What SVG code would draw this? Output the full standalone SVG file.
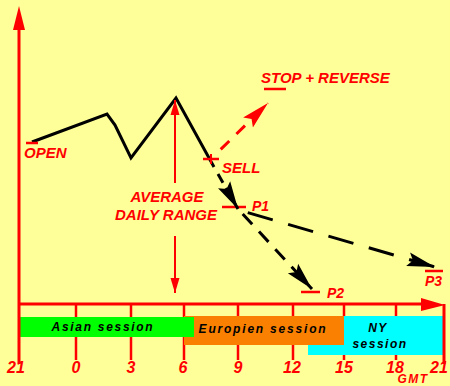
<svg xmlns="http://www.w3.org/2000/svg" width="450" height="386" viewBox="0 0 450 386">
<style>
.ax{stroke:#FF0000;stroke-width:3;fill:none}
.tk{stroke:#FF0000;stroke-width:2.5;fill:none}
.rl{font-family:"Liberation Sans",Arial,sans-serif;font-weight:bold;font-style:italic;fill:#FF0000}
.sl{font-family:"Liberation Sans",Arial,sans-serif;font-weight:bold;font-style:italic;fill:#000;font-size:12px;letter-spacing:1.8px}
.bar{stroke:#FF0000;stroke-width:2.5}
.bd{stroke:#000;stroke-width:3;fill:none}
</style>
<defs>
<marker id="ahb" markerUnits="userSpaceOnUse" markerWidth="30" markerHeight="16" refX="28" refY="8" orient="auto">
<path d="M0,1 L28,8 L0,15 L5,8 z" fill="#000"/>
</marker>
<marker id="ahr" markerUnits="userSpaceOnUse" markerWidth="30" markerHeight="16" refX="28" refY="8" orient="auto">
<path d="M0,1 L28,8 L0,15 L5,8 z" fill="#FF0000"/>
</marker>
<marker id="ahs" markerUnits="userSpaceOnUse" markerWidth="16" markerHeight="10" refX="15" refY="5" orient="auto">
<path d="M0,0.5 L15,5 L0,9.5 z" fill="#FF0000"/>
</marker>
</defs>
<rect width="450" height="386" fill="#FFFF99"/>

<g id="ticks">
<line class="tk" x1="76" y1="304" x2="76" y2="360"/>
<line class="tk" x1="131" y1="304" x2="131" y2="360"/>
<line class="tk" x1="184" y1="304" x2="184" y2="360"/>
<line class="tk" x1="238" y1="304" x2="238" y2="360"/>
<line class="tk" x1="293" y1="304" x2="293" y2="360"/>
<line class="tk" x1="344" y1="304" x2="344" y2="360"/>
<line class="tk" x1="396" y1="304" x2="396" y2="360"/>
</g>

<g id="ny-session">
<rect x="308" y="316" width="135" height="39" fill="#00FFFF"/>
<text class="sl" x="378" y="332" text-anchor="middle" style="letter-spacing:1.5px">NY</text>
<text class="sl" x="380" y="348" text-anchor="middle" style="letter-spacing:1.5px">session</text>
</g>
<g id="europe-session">
<rect x="184" y="316" width="160" height="29" fill="#F98000"/>
<text class="sl" x="263" y="333" text-anchor="middle">Europien session</text>
</g>
<g id="asian-session">
<rect x="20" y="317" width="174" height="20" fill="#00FF00"/>
<text class="sl" x="103" y="331" text-anchor="middle" style="letter-spacing:1.7px">Asian session</text>
</g>

<g id="axes">
<line class="ax" x1="19" y1="26" x2="19" y2="364"/>
<polygon points="19,6 13,30 25,30" fill="#FF0000"/>
<line class="ax" x1="19" y1="304" x2="425" y2="304"/>
<polygon points="445,305 421,298 421,311" fill="#FF0000"/>
<line class="ax" x1="444" y1="304" x2="444" y2="364"/>
</g>

<g id="time-labels" class="rl" font-size="16" text-anchor="middle">
<text x="16" y="373">21</text>
<text x="76" y="373">0</text>
<text x="131" y="373">3</text>
<text x="183" y="373">6</text>
<text x="238" y="373">9</text>
<text x="292" y="373">12</text>
<text x="344" y="373">15</text>
<text x="395" y="373">18</text>
<text x="439" y="373">21</text>
<text x="413" y="383" font-size="12" style="letter-spacing:1.5px">GMT</text>
</g>

<g id="price">
<polyline points="32,142 107,114 115,125 131,158 176,98 214,167" fill="none" stroke="#000" stroke-width="3" stroke-linejoin="miter"/>
</g>

<g id="open">
<line class="bar" x1="26" y1="143" x2="38" y2="143"/>
<text class="rl" x="24" y="158" font-size="15">OPEN</text>
</g>

<g id="sell">
<line class="bar" x1="203" y1="159" x2="219" y2="159"/>
<line stroke="#FF0000" stroke-width="2" x1="211" y1="154" x2="211" y2="164"/>
<text class="rl" x="222" y="173" font-size="15">SELL</text>
</g>

<g id="stop-reverse">
<line class="bar" x1="264" y1="89" x2="286" y2="89"/>
<text class="rl" x="261" y="83" font-size="15">STOP + REVERSE</text>
</g>

<g id="adr">
<line stroke="#FF0000" stroke-width="2" x1="175" y1="183" x2="175" y2="100" marker-end="url(#ahs)"/>
<line stroke="#FF0000" stroke-width="2" x1="175" y1="236" x2="175" y2="293" marker-end="url(#ahs)"/>
<text class="rl" x="167" y="202" font-size="15" text-anchor="middle">AVERAGE</text>
<text class="rl" x="166" y="220" font-size="15" text-anchor="middle">DAILY RANGE</text>
</g>

<g id="p1">
<line class="bar" x1="222" y1="207" x2="246" y2="207"/>
<text class="rl" x="252" y="211" font-size="14">P1</text>
</g>
<g id="p2">
<line class="bar" x1="301" y1="292" x2="320" y2="292"/>
<text class="rl" x="327" y="298" font-size="14">P2</text>
</g>
<g id="p3">
<line class="bar" x1="425" y1="271" x2="443" y2="271"/>
<text class="rl" x="425" y="286" font-size="14">P3</text>
</g>

<g id="connectors">
<path d="M218,174 L238,209" class="bd" stroke-dasharray="10 6" marker-end="url(#ahb)"/>
<path d="M240,211 L312,289" class="bd" stroke-dasharray="14 10" stroke-dashoffset="-4" marker-end="url(#ahb)"/>
<path d="M242,211 L435,267" class="bd" stroke-dasharray="26 16" stroke-dashoffset="-6" marker-end="url(#ahb)"/>
<path d="M215,155 L268,103" stroke="#FF0000" stroke-width="3" fill="none" stroke-dasharray="12 10" stroke-dashoffset="-8" marker-end="url(#ahr)"/>
</g>
</svg>
